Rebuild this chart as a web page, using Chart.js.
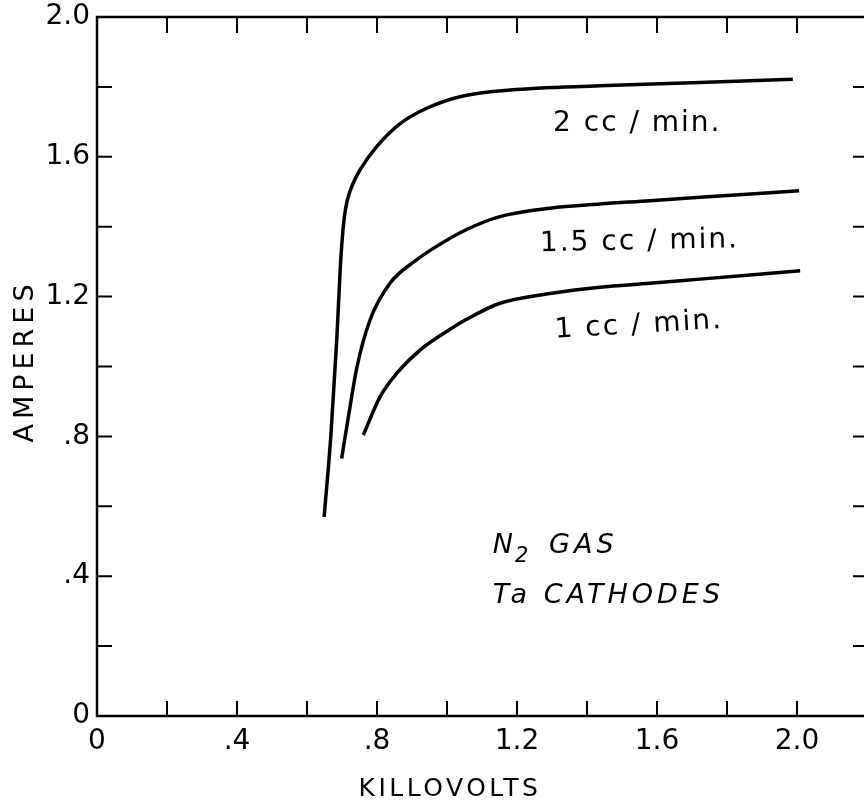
<!DOCTYPE html>
<html><head><meta charset="utf-8">
<script src="https://cdn.jsdelivr.net/npm/chart.js@4/dist/chart.umd.min.js"></script>
<style>html,body{margin:0;padding:0;background:#fff;overflow:hidden}#wrap{width:900px;height:806px}</style>
</head><body><div id="wrap"><canvas id="c" width="900" height="806"></canvas></div>
<script>
// Series: kilovolts (x) vs amperes (y)
const kv2   = [0.649,0.668,0.685,0.695,0.701,0.707,0.715,0.730,0.751,0.799,0.866,0.942,1.037,1.180,1.437,1.700,1.988];
const amp2  = [0.570,0.800,1.076,1.280,1.370,1.430,1.475,1.520,1.562,1.629,1.695,1.739,1.772,1.791,1.803,1.812,1.822];
const kv15  = [0.699,0.723,0.742,0.780,0.837,0.913,0.961,1.056,1.151,1.294,1.437,1.580,1.723,2.006];
const amp15 = [0.737,0.885,0.995,1.133,1.238,1.305,1.338,1.392,1.429,1.453,1.465,1.474,1.484,1.503];
const kv1   = [0.761,0.809,0.856,0.923,0.999,1.056,1.151,1.294,1.437,1.580,1.723,2.009];
const amp1  = [0.804,0.914,0.980,1.047,1.100,1.135,1.181,1.209,1.227,1.238,1.250,1.274];

const xTickValues = [0,0.4,0.8,1.2,1.6,2.0];
const xTickLabels = ['0','.4','.8','1.2','1.6','2.0'];
const yTickValues = [0,0.4,0.8,1.2,1.6,2.0];
const yTickLabels = ['0','.4','.8','1.2','1.6','2.0'];
const curveLabels = ['2 cc / min.','1.5 cc / min.','1 cc / min.'];
const gasLabel = ['N','2',' GAS'];
const cathodeLabel = 'Ta CATHODES';
const xTitle = 'KILLOVOLTS';
const yTitle = 'AMPERES';

const FONT = '"DejaVu Sans", sans-serif';

function pts(xs, ys){ return xs.map((x,i)=>({x:x, y:ys[i]})); }
function lbl(v, vals, labs){
  for (let i=0;i<vals.length;i++) if (Math.abs(v-vals[i])<1e-6) return labs[i];
  return '';
}

const framePlugin = {
  id:'frame',
  afterDraw(chart){
    const ctx = chart.ctx, a = chart.chartArea;
    const xs = chart.scales.x, ys = chart.scales.y;
    ctx.save();
    ctx.strokeStyle = '#000';
    ctx.lineWidth = 2.5;
    ctx.strokeRect(a.left, a.top, a.right-a.left, a.bottom-a.top);
    ctx.lineWidth = 2;
    ctx.beginPath();
    xs.ticks.forEach(t=>{
      const p = xs.getPixelForValue(t.value);
      ctx.moveTo(p, a.bottom); ctx.lineTo(p, a.bottom-15);
      ctx.moveTo(p, a.top); ctx.lineTo(p, a.top+16);
    });
    ys.ticks.forEach(t=>{
      const p = ys.getPixelForValue(t.value);
      ctx.moveTo(a.left, p); ctx.lineTo(a.left+15, p);
      ctx.moveTo(a.right, p); ctx.lineTo(a.right-14, p);
    });
    ctx.stroke();

    ctx.fillStyle = '#000';
    ctx.textBaseline = 'alphabetic';
    ctx.textAlign = 'left';
    const X = v=>xs.getPixelForValue(v), Y = v=>ys.getPixelForValue(v);

    // curve labels
    ctx.font = '28px ' + FONT;
    ctx.letterSpacing = '2px';
    ctx.fillText(curveLabels[0], X(1.303), Y(1.674));
    ctx.save(); ctx.translate(X(1.266), Y(1.330)); ctx.rotate(-0.02);
    ctx.fillText(curveLabels[1], 0, 0); ctx.restore();
    ctx.save(); ctx.translate(X(1.309), Y(1.082)); ctx.rotate(-0.06);
    ctx.fillText(curveLabels[2], 0, 0); ctx.restore();

    // gas / cathode note
    ctx.font = 'italic 27px ' + FONT;
    ctx.letterSpacing = '4px';
    let x0 = X(1.131), yb = Y(0.466);
    ctx.fillText(gasLabel[0], x0, yb);
    let w = ctx.measureText(gasLabel[0]).width;
    ctx.font = 'italic 21px ' + FONT;
    ctx.fillText(gasLabel[1], x0 + w - 2, yb + 9);
    let w2 = ctx.measureText(gasLabel[1]).width;
    ctx.font = 'italic 27px ' + FONT;
    ctx.fillText(gasLabel[2], x0 + w + w2 + 2, yb);
    ctx.fillText(cathodeLabel, x0, Y(0.323));

    // axis titles
    ctx.font = '25px ' + FONT;
    ctx.letterSpacing = '3.5px';
    ctx.textAlign = 'center';
    ctx.fillText(xTitle, 450, 796);
    ctx.save();
    ctx.translate(33, 361); ctx.rotate(-Math.PI/2);
    ctx.font = '27px ' + FONT;
    ctx.letterSpacing = '5px';
    ctx.fillText(yTitle, 0, 0);
    ctx.restore();
    ctx.restore();
  }
};

const ds = (xs, ys)=>({
  data: pts(xs, ys), showLine:true, pointRadius:0, borderColor:'#000',
  borderWidth:3.5, cubicInterpolationMode:'monotone', fill:false
});

new Chart(document.getElementById('c'), {
  type:'scatter',
  data:{ datasets:[ ds(kv2,amp2), ds(kv15,amp15), ds(kv1,amp1) ] },
  options:{
    responsive:false, animation:false,
    layout:{ padding:{ top:17, right:33, left:0, bottom:0 } },
    plugins:{ legend:{display:false}, tooltip:{enabled:false} },
    scales:{
      x:{ type:'linear', min:0, max:2.2,
          grid:{display:false, drawTicks:false}, border:{display:false},
          ticks:{ stepSize:0.2, autoSkip:false, maxRotation:0, padding:9, color:'#000',
                  font:{family:FONT, size:28},
                  callback:v=>lbl(v,xTickValues,xTickLabels) },
          afterFit:s=>{ s.height = 90; s.paddingLeft = 0; s.paddingRight = 0; } },
      y:{ type:'linear', min:0, max:2.0,
          grid:{display:false, drawTicks:false}, border:{display:false},
          ticks:{ stepSize:0.2, autoSkip:false, padding:7, color:'#000',
                  font:{family:FONT, size:28},
                  callback:v=>lbl(v,yTickValues,yTickLabels) },
          afterFit:s=>{ s.width = 97; s.paddingTop = 0; s.paddingBottom = 0; } }
    }
  },
  plugins:[framePlugin]
});
</script></body></html>
